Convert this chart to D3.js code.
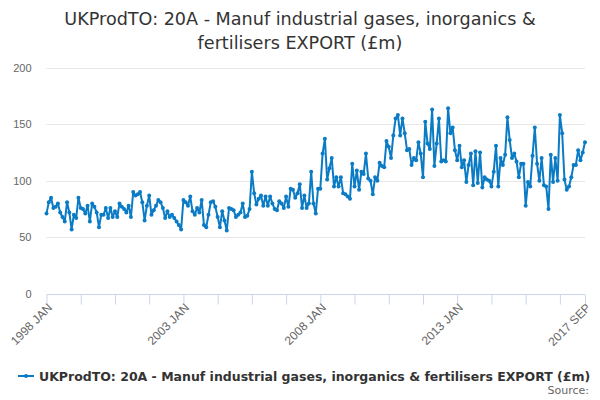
<!DOCTYPE html>
<html lang="en">
<head>
<meta charset="UTF-8">
<title>UKProdTO 20A</title>
<style>
    body { margin: 0; background: #fff; }
    svg { font-family: "DejaVu Sans", sans-serif; }
    .grid line { stroke: #e6e6e6; }
    .axis text { fill: #666; font-size: 11px; }
    .xaxis text { font-size: 12px; }
</style>
</head>
<body>
<script src="https://cdn.jsdelivr.net/npm/d3@7"></script>
<script>
    // monthly values, 1998 JAN .. 2017 SEP
    var y1998 = [71, 81, 85, 76, 77, 80, 72, 68, 64, 81, 72, 57]
    var y1999 = [70, 67, 85, 76, 75, 71, 78, 64, 80, 77, 72, 59]
    var y2000 = [70, 70, 76, 67, 76, 68, 73, 68, 80, 77, 75, 72]
    var y2001 = [78, 68, 90, 87, 88, 90, 81, 65, 78, 87, 70, 74]
    var y2002 = [78, 83, 81, 76, 67, 73, 68, 70, 67, 64, 61, 57]
    var y2003 = [83, 81, 78, 86, 73, 70, 76, 72, 83, 61, 59, 70]
    var y2004 = [81, 82, 77, 68, 59, 73, 65, 56, 76, 75, 74, 68]
    var y2005 = [70, 72, 80, 68, 69, 75, 108, 89, 79, 84, 87, 78]
    var y2006 = [86, 78, 86, 80, 75, 74, 82, 80, 76, 86, 77, 93]
    var y2007 = [92, 85, 89, 97, 76, 87, 76, 80, 108, 80, 71, 93]
    var y2008 = [93, 124, 137, 101, 111, 120, 95, 103, 95, 103, 89, 88]
    var y2009 = [86, 84, 115, 95, 109, 92, 108, 106, 124, 102, 100, 88]
    var y2010 = [103, 100, 116, 113, 112, 135, 130, 120, 140, 155, 158, 140]
    var y2011 = [155, 142, 127, 128, 114, 120, 118, 134, 124, 103, 152, 133]
    var y2012 = [128, 163, 113, 133, 155, 117, 118, 117, 164, 142, 147, 127]
    var y2013 = [118, 131, 112, 118, 99, 114, 124, 96, 126, 98, 125, 94]
    var y2014 = [103, 101, 100, 95, 108, 131, 95, 120, 114, 123, 156, 136]
    var y2015 = [120, 124, 117, 103, 115, 115, 78, 99, 95, 122, 147, 115]
    var y2016 = [100, 120, 96, 95, 75, 123, 99, 120, 100, 158, 142, 101]
    var y2017 = [92, 95, 103, 114, 114, 127, 118, 125, 134]

    var months = ['JAN', 'FEB', 'MAR', 'APR', 'MAY', 'JUN', 'JUL', 'AUG', 'SEP', 'OCT', 'NOV', 'DEC']
    var yTicks = [0, 50, 100, 150, 200]
    var xLabels = ['1998 JAN', '2003 JAN', '2008 JAN', '2013 JAN', '2017 SEP']

    var years = [y1998, y1999, y2000, y2001, y2002, y2003, y2004, y2005, y2006, y2007,
                 y2008, y2009, y2010, y2011, y2012, y2013, y2014, y2015, y2016, y2017]
    var data = []
    years.forEach(function (arr, k) {
        arr.forEach(function (v, m) {
            data.push({ label: (1998 + k) + ' ' + months[m], value: v })
        })
    })

    var width = 600, height = 400
    var plot = { left: 46.5, right: 585, top: 67.5, bottom: 294 }
    var lineColor = '#0a7bc4'

    var svg = d3.select('body').append('svg')
        .attr('width', width)
        .attr('height', height)

    // title
    var title = svg.append('text')
        .attr('x', width / 2)
        .attr('text-anchor', 'middle')
        .style('font-size', '17.6px')
        .style('fill', '#333')
    title.append('tspan').attr('x', width / 2).attr('y', 25)
        .text('UKProdTO: 20A - Manuf industrial gases, inorganics &')
    title.append('tspan').attr('x', width / 2).attr('y', 49)
        .text('fertilisers EXPORT (£m)')

    var xScale = d3.scaleLinear()
        .domain([0, data.length - 1])
        .range([plot.left, plot.right])
    var yScale = d3.scaleLinear()
        .domain([0, 200])
        .range([plot.bottom, plot.top])

    // horizontal grid
    svg.append('g').attr('class', 'grid')
        .selectAll('line')
        .data(yTicks.filter(function (d) { return d > 0 }))
        .enter().append('line')
        .attr('x1', plot.left).attr('x2', plot.right)
        .attr('y1', function (d) { return Math.round(yScale(d)) + 0.5 })
        .attr('y2', function (d) { return Math.round(yScale(d)) + 0.5 })

    // y axis labels
    var yAxis = d3.axisLeft(yScale).tickValues(yTicks).tickSize(0).tickPadding(15)
    var gy = svg.append('g').attr('class', 'axis')
        .attr('transform', 'translate(' + plot.left + ',0)')
        .call(yAxis)
    gy.select('.domain').remove()

    // x axis: a tick every 15 months, labels every 60 months, plus the last month
    var tickIdx = d3.range(0, data.length, 15)
    tickIdx.push(data.length - 1)
    var xAxis = d3.axisBottom(xScale)
        .tickValues(tickIdx)
        .tickSize(10)
        .tickFormat(function (i) {
            var lab = data[i].label
            return xLabels.indexOf(lab) >= 0 ? lab : ''
        })
    var gx = svg.append('g').attr('class', 'axis xaxis')
        .attr('transform', 'translate(0,' + (plot.bottom + 0.5) + ')')
        .call(xAxis)
    gx.select('.domain').attr('stroke', '#ccd6eb').attr('d', 'M' + plot.left + ',0H' + plot.right)
    gx.selectAll('.tick line').attr('stroke', '#ccd6eb')
    gx.selectAll('.tick text')
        .attr('text-anchor', 'end')
        .attr('x', 0)
        .attr('y', 0)
        .attr('dy', '0.35em')
        .attr('transform', 'translate(3,11) rotate(-45)')

    // series
    var line = d3.line()
        .x(function (d, i) { return xScale(i) })
        .y(function (d) { return yScale(d.value) })
    svg.append('path')
        .datum(data)
        .attr('fill', 'none')
        .attr('stroke', lineColor)
        .attr('stroke-width', 2)
        .attr('stroke-linejoin', 'round')
        .attr('d', line)
    svg.append('g').selectAll('circle')
        .data(data)
        .enter().append('circle')
        .attr('cx', function (d, i) { return xScale(i) })
        .attr('cy', function (d) { return yScale(d.value) })
        .attr('r', 2)
        .attr('fill', lineColor)

    // legend
    var lg = svg.append('g').attr('transform', 'translate(0,376)')
    lg.append('line').attr('x1', 18).attr('x2', 34).attr('y1', 0).attr('y2', 0)
        .attr('stroke', lineColor).attr('stroke-width', 2)
    lg.append('circle').attr('cx', 26).attr('cy', 0).attr('r', 2).attr('fill', lineColor)
    lg.append('text').attr('x', 39).attr('y', 4.5)
        .style('font-size', '12.5px').style('font-weight', 'bold').style('fill', '#333')
        .text('UKProdTO: 20A - Manuf industrial gases, inorganics & fertilisers EXPORT (£m)')

    svg.append('text')
        .attr('x', 589).attr('y', 394)
        .attr('text-anchor', 'end')
        .style('font-size', '11px').style('fill', '#666')
        .text('Source:')
</script>
</body>
</html>
